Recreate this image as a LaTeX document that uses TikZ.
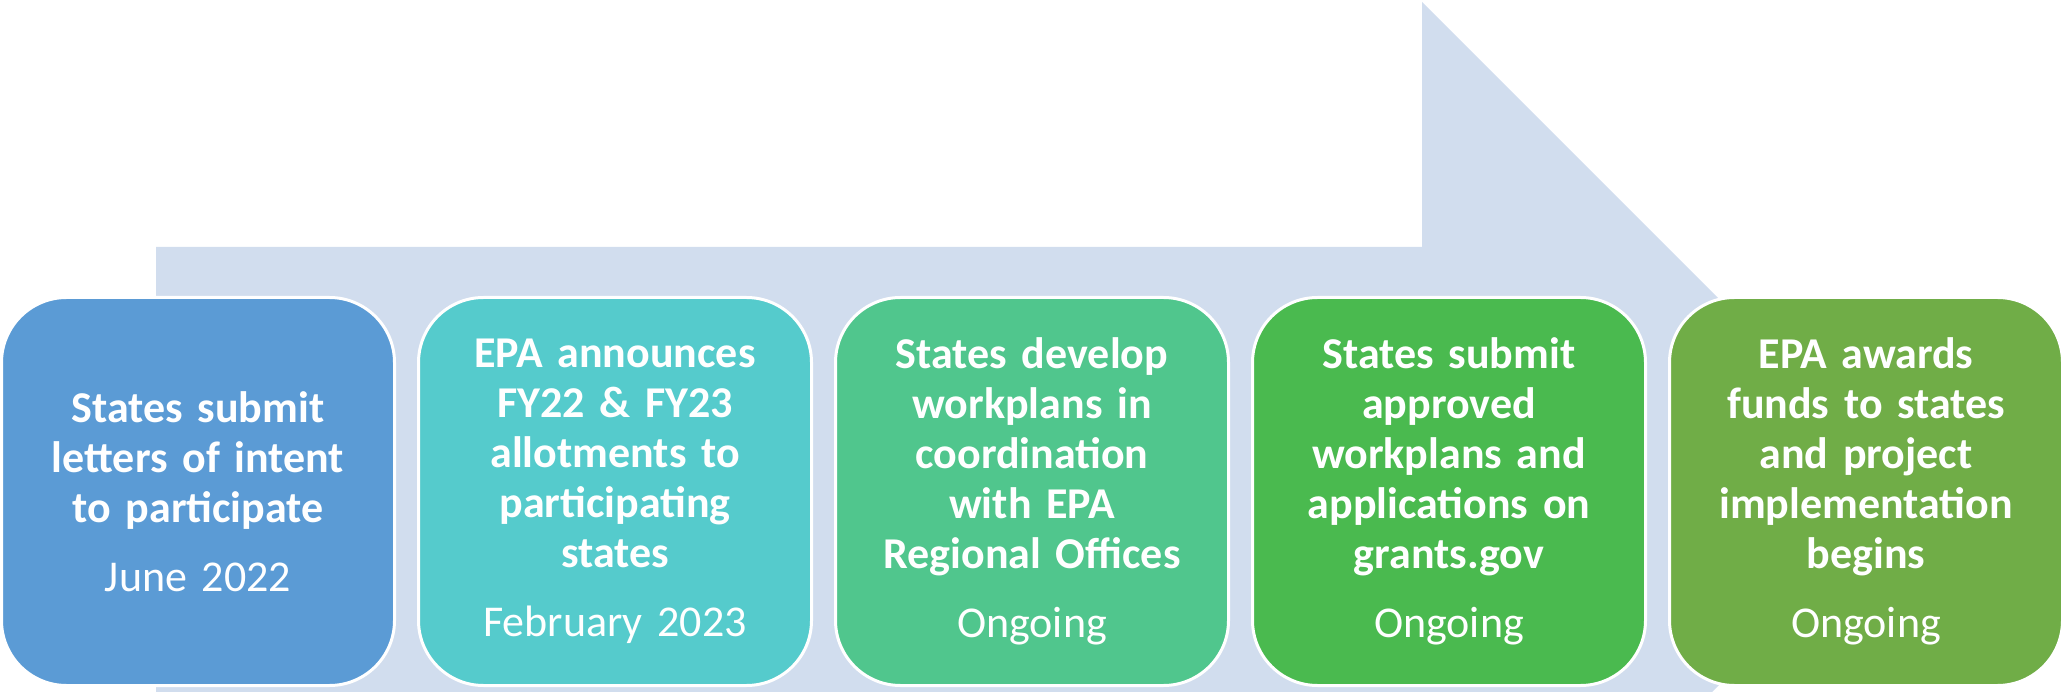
\documentclass[tikz,border=0pt]{standalone}
\usepackage{fontspec}
\setmainfont{Carlito}
\definecolor{arrowbg}{HTML}{D1DDEE}
\definecolor{stageA}{HTML}{5B9BD5}
\definecolor{stageB}{HTML}{55CBCC}
\definecolor{stageC}{HTML}{50C68D}
\definecolor{stageD}{HTML}{4ABA4F}
\definecolor{stageE}{HTML}{70AD47}
\begin{document}
\begin{tikzpicture}[x=1pt,y=-1pt,
  stage/.style={draw=white, line width=3pt, rounded corners=65pt,
    minimum width=393pt, minimum height=388pt, inner sep=0pt,
    text width=380pt, align=center, text=white,
    font=\fontsize{44}{50}\selectfont\bfseries},
  when/.style={}]
\useasboundingbox (0,0) rectangle (2062,692);
% large background arrow behind the stages
\begin{scope}
  \clip (0,0) rectangle (2062,692);
  \fill[arrowbg] (156,247) -- (1422,247) -- (1422,2) -- (1912,492)
    -- (1422,982) -- (1422,737) -- (156,737) -- cycle;
\end{scope}
% the five stages
\node[stage, fill=stageA] (s1) at (198,491.5)
  {States submit\\letters of intent\\to participate\\[19pt]\mdseries June 2022};
\node[stage, fill=stageB] (s2) at (615,491.5)
  {EPA announces\\FY22 \& FY23\\allotments to\\participating\\states\\[19pt]\mdseries February 2023};
\node[stage, fill=stageC] (s3) at (1032,491.5)
  {States develop\\workplans in\\coordination\\with EPA\\Regional Offices\\[19pt]\mdseries Ongoing};
\node[stage, fill=stageD] (s4) at (1449,491.5)
  {States submit\\approved\\workplans and\\applications on\\grants.gov\\[19pt]\mdseries Ongoing};
\node[stage, fill=stageE] (s5) at (1866,491.5)
  {EPA awards\\funds to states\\and project\\implementation\\begins\\[19pt]\mdseries Ongoing};
\end{tikzpicture}
\end{document}
